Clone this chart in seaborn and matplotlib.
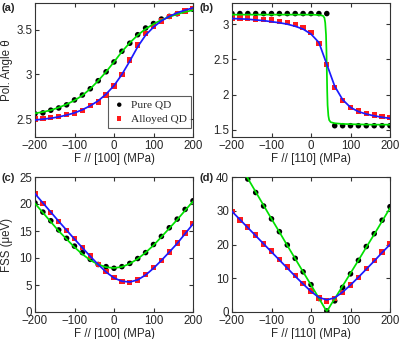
import numpy as np
import pandas as pd
import matplotlib
matplotlib.use("Agg")
import matplotlib.pyplot as plt
import seaborn as sns

# ---------------- data ----------------
F = [-200, -180, -160, -140, -120, -100, -80, -60, -40, -20, 0,
     20, 40, 60, 80, 100, 120, 140, 160, 180, 200]

# (a) polarization angle, stress along [100]
a_pure = [2.56, 2.57, 2.60, 2.625, 2.66, 2.715, 2.77, 2.84, 2.93, 3.03, 3.14,
          3.26, 3.35, 3.445, 3.52, 3.57, 3.62, 3.65, 3.68, 3.71, 3.73]
a_alloy = [2.50, 2.51, 2.52, 2.53, 2.55, 2.57, 2.60, 2.65, 2.69, 2.77, 2.87,
           3.00, 3.16, 3.33, 3.46, 3.54, 3.60, 3.65, 3.68, 3.71, 3.74]
a_fit_pure = [2.565, 2.58, 2.60, 2.63, 2.665, 2.71, 2.765, 2.84, 2.93, 3.03, 3.14,
              3.255, 3.355, 3.44, 3.51, 3.565, 3.61, 3.645, 3.675, 3.70, 3.72]
a_fit_alloy = [2.49, 2.50, 2.51, 2.525, 2.545, 2.57, 2.605, 2.65, 2.705, 2.78, 2.875,
               3.00, 3.15, 3.31, 3.44, 3.53, 3.60, 3.65, 3.69, 3.72, 3.745]

# (b) polarization angle, stress along [110]
b_pure = [3.15, 3.15, 3.15, 3.15, 3.15, 3.15, 3.15, 3.15, 3.15, 3.15, 3.15,
          3.15, 3.15, 1.56, 1.56, 1.56, 1.56, 1.56, 1.56, 1.56, 1.56]
b_alloy = [3.09, 3.09, 3.085, 3.075, 3.066, 3.057, 3.04, 3.02, 2.995, 2.95, 2.88,
           2.73, 2.43, 2.10, 1.915, 1.82, 1.77, 1.73, 1.71, 1.69, 1.675]
Fb_fit_pure = [-200, -100, 0, 20, 30, 34, 36, 38, 39, 40, 41, 42, 44, 46, 50,
               60, 80, 110, 150, 200]
b_fit_pure = [3.135, 3.135, 3.135, 3.13, 3.12, 3.09, 3.02, 2.85, 2.65, 2.35,
              2.05, 1.85, 1.70, 1.64, 1.61, 1.595, 1.585, 1.58, 1.575, 1.575]
b_fit_alloy = [3.08, 3.075, 3.07, 3.06, 3.05, 3.035, 3.02, 3.00, 2.97, 2.93, 2.86,
               2.74, 2.43, 2.12, 1.93, 1.82, 1.76, 1.725, 1.70, 1.68, 1.665]

# (c) fine-structure splitting, stress along [100]
c_pure = [20.2, 18.5, 16.9, 15.2, 13.65, 12.2, 11.0, 9.75, 8.8, 8.4, 8.1,
          8.4, 9.0, 9.9, 11.0, 12.5, 14.0, 15.6, 17.2, 19.0, 20.6]
c_alloy = [21.9, 20.1, 18.4, 16.75, 15.1, 13.6, 11.9, 10.4, 8.8, 7.45, 6.35,
           5.6, 5.45, 5.9, 6.9, 8.2, 9.55, 11.1, 12.8, 14.6, 16.4]
c_fit_pure = [20.1, 18.4, 16.7, 15.0, 13.5, 12.0, 10.7, 9.6, 8.8, 8.3, 8.15,
              8.35, 8.95, 9.85, 11.0, 12.35, 13.9, 15.5, 17.1, 18.8, 20.5]
c_fit_alloy = [21.9, 20.2, 18.5, 16.8, 15.15, 13.5, 11.9, 10.3, 8.8, 7.4, 6.3,
               5.7, 5.55, 5.95, 6.85, 8.1, 9.55, 11.1, 12.7, 14.5, 16.3]

# (d) fine-structure splitting, stress along [110]
d_pure = [np.nan, np.nan, 39.4, 35.4, 31.4, 27.6, 23.8, 19.85, 15.9, 11.9, 8.1,
          4.0, 0.3, 3.3, 7.3, 11.3, 15.3, 19.4, 23.2, 27.2, 31.2]
d_alloy = [29.8, 27.3, 25.2, 22.8, 20.2, 18.1, 15.6, 13.3, 10.9, 8.5, 6.25,
           4.2, 3.3, 4.0, 5.8, 8.0, 10.2, 12.8, 15.3, 17.8, 20.1]
Fd_fit_pure = [-200, -180, -160, -140, -120, -100, -80, -60, -40, -20, 0,
               20, 30, 36, 40, 44, 50, 60, 80, 100, 120, 140, 160, 180, 200]
d_fit_pure = [47.6, 43.6, 39.6, 35.6, 31.6, 27.6, 23.7, 19.7, 15.8, 11.9, 8.0,
              4.1, 2.1, 0.9, 0.3, 0.9, 2.1, 3.9, 7.7, 11.5, 15.3, 19.2, 23.0, 26.9, 30.8]
d_fit_alloy = [29.8, 27.4, 25.0, 22.6, 20.2, 17.8, 15.4, 13.0, 10.6, 8.3, 6.1,
               4.3, 3.6, 4.2, 5.9, 8.0, 10.3, 12.7, 15.1, 17.6, 20.0]

xlabels = ["F // [100] (MPa)", "F // [110] (MPa)", "F // [100] (MPa)", "F // [110] (MPa)"]
panel_tags = ["(a)", "(b)", "(c)", "(d)"]
legend_labels = ["Pure QD", "Alloyed QD"]

# ---------------- style ----------------
sns.set_style("ticks")
plt.rcParams["font.family"] = ["Liberation Sans", "DejaVu Sans"]
plt.rcParams["font.size"] = 8.3
plt.rcParams["xtick.direction"] = "in"
plt.rcParams["ytick.direction"] = "in"
plt.rcParams["axes.edgecolor"] = "#333333"
plt.rcParams["axes.linewidth"] = 0.8
plt.rcParams["xtick.major.size"] = 3
plt.rcParams["ytick.major.size"] = 3

W, H = 399, 339
fig = plt.figure(figsize=(W / 100, H / 100), dpi=100)

def ax_at(l, t, r, b):
    return fig.add_axes([l / W, 1 - b / H, (r - l) / W, (b - t) / H])

axA = ax_at(35, 3, 193, 137)
axB = ax_at(232, 3, 390, 137)
axC = ax_at(35, 177, 193, 312)
axD = ax_at(232, 177, 390, 312)

GREEN = "#00e000"
BLUE = "#1a1aff"
RED = "#ff1a1a"

def draw(ax, pure, alloy, fx_p, fy_p, fx_a, fy_a, legend=False):
    dfp = pd.DataFrame({"F": F, "v": pure})
    dfa = pd.DataFrame({"F": F, "v": alloy})
    sns.scatterplot(data=dfp, x="F", y="v", ax=ax, marker="o", s=16, color="black",
                    edgecolor="none", label=legend_labels[0], zorder=2, legend=legend)
    sns.scatterplot(data=dfa, x="F", y="v", ax=ax, marker="s", s=15, color=RED,
                    edgecolor="none", label=legend_labels[1], zorder=2, legend=legend)
    sns.lineplot(x=fx_p, y=fy_p, ax=ax, color=GREEN, lw=1.25, sort=False,
                 estimator=None, zorder=3, legend=False)
    sns.lineplot(x=fx_a, y=fy_a, ax=ax, color=BLUE, lw=1.25, sort=False,
                 estimator=None, zorder=3, legend=False)

draw(axA, a_pure, a_alloy, F, a_fit_pure, F, a_fit_alloy, legend=True)
draw(axB, b_pure, b_alloy, Fb_fit_pure, b_fit_pure, F, b_fit_alloy)
draw(axC, c_pure, c_alloy, F, c_fit_pure, F, c_fit_alloy)
draw(axD, d_pure, d_alloy, Fd_fit_pure, d_fit_pure, F, d_fit_alloy)

axA.set_ylim(2.3, 3.8)
axA.set_yticks([2.5, 3, 3.5])
axA.set_yticklabels(["2.5", "3", "3.5"])
axB.set_ylim(1.4, 3.3)
axB.set_yticks([1.5, 2, 2.5, 3])
axB.set_yticklabels(["1.5", "2", "2.5", "3"])
axC.set_ylim(0, 25)
axC.set_yticks([0, 5, 10, 15, 20, 25])
axD.set_ylim(0, 40)
axD.set_yticks([0, 10, 20, 30, 40])

for ax, xl in zip([axA, axB, axC, axD], xlabels):
    ax.set_xlim(-200, 200)
    ax.set_xticks([-200, -100, 0, 100, 200])
    ax.set_xlabel(xl, labelpad=1)
    ax.set_ylabel("")
    ax.tick_params(top=True, right=True, pad=2, width=0.8, color="#333333")

axA.set_ylabel("Pol. Angle θ")
axA.yaxis.set_label_coords(-0.14, 0.5)
axC.set_ylabel("FSS (μeV)")
axC.yaxis.set_label_coords(-0.14, 0.5)

leg = axA.legend(loc="lower right", bbox_to_anchor=(0.985, 0.07), borderaxespad=0,
                 prop={"family": "Liberation Serif", "size": 8.2}, frameon=True,
                 fancybox=False, edgecolor="#333333", handletextpad=0.4,
                 borderpad=0.35, labelspacing=0.35, handlelength=1.2, markerscale=0.8)
leg.get_frame().set_linewidth(0.8)

for tag, (x, y) in zip(panel_tags, [(1, 8), (200, 8), (1, 178), (200, 178)]):
    fig.text(x / W, 1 - y / H, tag, fontsize=8, fontweight="bold", va="center", ha="left")

fig.savefig("out.png", dpi=100)
